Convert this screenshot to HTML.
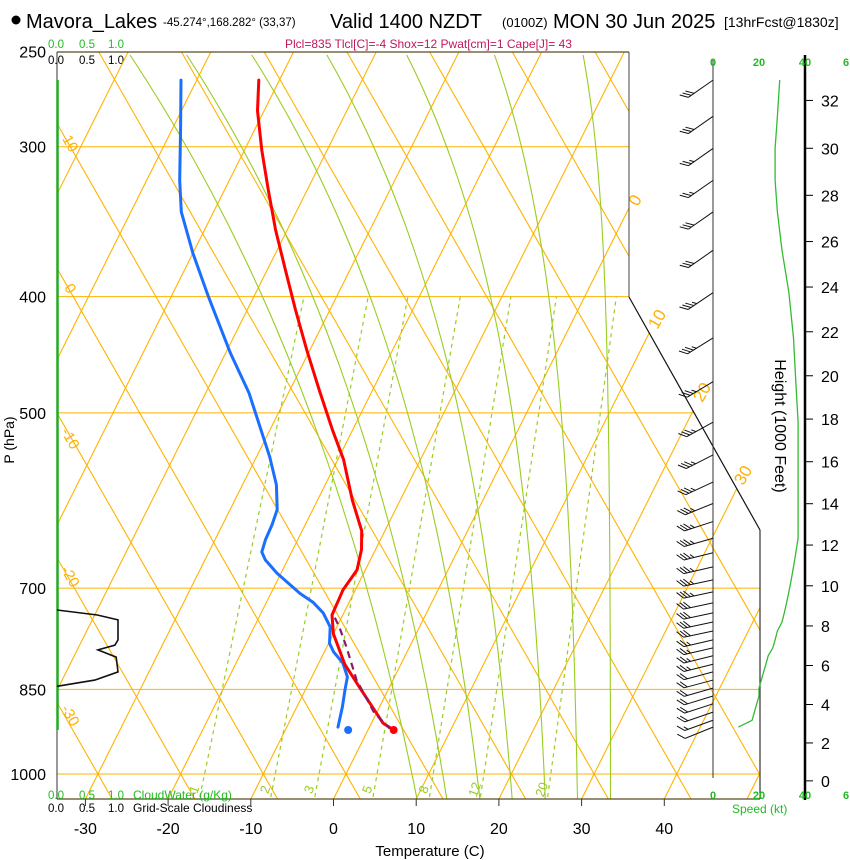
<!DOCTYPE html>
<html>
<head>
<meta charset="utf-8">
<style>
  html,body{margin:0;padding:0;background:#fff;}
  svg{display:block;font-family:"Liberation Sans",Arial,sans-serif;}
</style>
</head>
<body>
<svg id="chart" width="850" height="860" viewBox="0 0 850 860" xmlns="http://www.w3.org/2000/svg">
  <defs>
    <clipPath id="plotclip">
      <polygon points="57,52 629,52 629,297 760,530 760,799 57,799"/>
    </clipPath>
  </defs>
  <rect x="0" y="0" width="850" height="860" fill="#fff"/>

  <g>
    <circle cx="16" cy="20" r="4.5" fill="#000"/>
    <text x="26" y="28" font-size="20">Mavora_Lakes</text>
    <text x="163" y="26" font-size="11.5">-45.274°,168.282° (33,37)</text>
    <text x="330" y="28" font-size="20">Valid 1400 NZDT</text>
    <text x="502" y="27" font-size="13">(0100Z)</text>
    <text x="553" y="28" font-size="20">MON 30 Jun 2025</text>
    <text x="724" y="27" font-size="14">[13hrFcst@1830z]</text>
    <text x="285" y="48" font-size="12" fill="#c0185a">Plcl=835 Tlcl[C]=-4 Shox=12 Pwat[cm]=1 Cape[J]= 43</text>
    <text x="48" y="48" font-size="11.5" fill="#22bb22">0.0</text>
    <text x="79" y="48" font-size="11.5" fill="#22bb22">0.5</text>
    <text x="108" y="48" font-size="11.5" fill="#22bb22">1.0</text>
    <text x="48" y="64" font-size="11.5" fill="#000">0.0</text>
    <text x="79" y="64" font-size="11.5" fill="#000">0.5</text>
    <text x="108" y="64" font-size="11.5" fill="#000">1.0</text>
  </g>

  <g id="grid" clip-path="url(#plotclip)"></g>
  <g id="gridlabels">
    <text transform="translate(640,203) rotate(-60)" font-size="17" fill="#ffb000" text-anchor="middle">0</text>
    <text transform="translate(662,322) rotate(-60)" font-size="17" fill="#ffb000" text-anchor="middle">10</text>
    <text transform="translate(707,395) rotate(-60)" font-size="17" fill="#ffb000" text-anchor="middle">20</text>
    <text transform="translate(748,478) rotate(-60)" font-size="17" fill="#ffb000" text-anchor="middle">30</text>
    <text transform="translate(66,146) rotate(60)" font-size="15" fill="#ffb000" text-anchor="middle">10</text>
    <text transform="translate(66,291) rotate(60)" font-size="15" fill="#ffb000" text-anchor="middle">0</text>
    <text transform="translate(66,441) rotate(60)" font-size="15" fill="#ffb000" text-anchor="middle">-10</text>
    <text transform="translate(66,579) rotate(60)" font-size="15" fill="#ffb000" text-anchor="middle">-20</text>
    <text transform="translate(66,718) rotate(60)" font-size="15" fill="#ffb000" text-anchor="middle">-30</text>
  </g>

  <g>
    <line x1="57" y1="52" x2="629" y2="52" stroke="#5a4a20" stroke-width="1.2"/>
    <line x1="629" y1="52" x2="629" y2="297" stroke="#444" stroke-width="1"/>
    <line x1="629" y1="297" x2="760" y2="530" stroke="#111" stroke-width="1.2"/>
    <line x1="760" y1="530" x2="760" y2="799" stroke="#333" stroke-width="1.2"/>
    <line x1="57" y1="52" x2="57" y2="799" stroke="#333" stroke-width="1"/>
    <line x1="57" y1="799" x2="760" y2="799" stroke="#5a4a20" stroke-width="1.3"/>
    <line x1="57.5" y1="80" x2="57.5" y2="730" stroke="#22aa22" stroke-width="2.5"/>
    <line x1="713" y1="60" x2="713" y2="778" stroke="#333" stroke-width="1"/>
    <line x1="805" y1="55" x2="805" y2="800" stroke="#000" stroke-width="2.5"/>
  </g>

  <g id="axes"></g>

  <text transform="translate(14,440) rotate(-90)" font-size="14" text-anchor="middle">P (hPa)</text>
  <text x="430" y="856" font-size="15" text-anchor="middle">Temperature (C)</text>
  <text transform="translate(775,426) rotate(90)" font-size="16" text-anchor="middle">Height (1000 Feet)</text>
  <text x="732" y="813" font-size="12" fill="#22bb22">Speed (kt)</text>

  <g>
    <text x="48" y="799" font-size="11.5" fill="#22bb22">0.0</text>
    <text x="79" y="799" font-size="11.5" fill="#22bb22">0.5</text>
    <text x="108" y="799" font-size="11.5" fill="#22bb22">1.0</text>
    <text x="133" y="799" font-size="12" fill="#22bb22">CloudWater (g/Kg)</text>
    <text x="48" y="812" font-size="11.5" fill="#000">0.0</text>
    <text x="79" y="812" font-size="11.5" fill="#000">0.5</text>
    <text x="108" y="812" font-size="11.5" fill="#000">1.0</text>
    <text x="133" y="812" font-size="12" fill="#000">Grid-Scale Cloudiness</text>
  </g>

  <g id="series"></g>
  <g id="winds"></g>
</svg>

<script>
// ---- data ----
const pressureTicks = [250, 300, 400, 500, 700, 850, 1000];
const gridPressures = [300, 400, 500, 700, 850, 1000];
const tempTicks = [-30, -20, -10, 0, 10, 20, 30, 40];
const heightTicks = [0, 2, 4, 6, 8, 10, 12, 14, 16, 18, 20, 22, 24, 26, 28, 30, 32];
const speedTicks = [0, 20, 40, 60];
const speedTickLabels = ["0", "20", "40", "6"];
const mixRatios = [1, 2, 3, 5, 8, 12, 20];
const moistT = [10.1, 13.7, 17.7, 21.6, 25.6, 29.5, 33.5];

const tempP = [264,280,302,326,352,380,410,443,479,517,547,591,627,650,676,702,737,764,810,848,907,919];
const tempT = [-52.5,-50.8,-47.9,-44.7,-41.4,-37.8,-34.2,-30.4,-26.4,-22.4,-19.3,-15.8,-12.8,-11.7,-11.0,-11.5,-11.3,-10.0,-6.8,-3.5,1.4,3.1];

const dewP = [264,289,320,340,368,400,446,481,544,574,602,620,638,653,663,680,707,719,734,754,778,791,808,830,851,879,914];
const dewT = [-61.9,-59.1,-56.0,-53.9,-50.0,-45.5,-39.4,-34.8,-28.4,-25.9,-24.3,-24.0,-23.9,-23.6,-22.7,-20.5,-16.5,-14.4,-12.5,-10.8,-9.9,-8.9,-7.1,-5.7,-5.2,-4.5,-3.8];

const parcelP = [741,754,784,835,889,916];
const parcelT = [-10.8,-9.7,-7.6,-4.4,-0.3,2.5];

const surfaceP = [919];
const surfaceT = [3.1];
const surfaceTd = [-2.4];

const cloudP = [730,737,744,773,781,788,799,822,835,845];
const cloudFrac = [0,0.66,1.0,1.0,0.95,0.67,0.97,1.0,0.62,0];

const windP = [264,283,301,320,340,366,397,433,471,509,542,571,595,616,636,654,672,689,705,720,734,747,760,773,785,797,810,822,835,848,861,874,888,902,914];
const windDir = [235,235,235,235,235,235,236,238,239,241,243,245,248,252,254,256,257,258,258,258,258,258,258,257,257,256,256,255,255,254,253,252,251,250,248];
const windSpd = [29,28,27,27,28,30,33,35,36,37,37,37,37,37,37,36,35,34,33,32,31,30,28,27,26,24,23,22,21,20,20,19,18,17,11];

// ---- axis functions ----
const Y0 = 774, PXLN = 521, X0 = 346, PXC = 8.27, SKEW = 2.0, ADIA = 1.75, MIXSKEW = 2.57;
function yOf(p){ return Y0 - PXLN*Math.log(1000/p); }
function xOf(T,p){ return X0 + PXC*T + (Y0 - yOf(p))/SKEW; }
function xSpd(s){ return 713 + s*2.3; }
function xCloud(f){ return 57 + f*61; }
function pOfHeightKft(h){ const z=h*304.8; return 1013.25*Math.pow(1-6.5e-3*z/288.15,5.2559); }

const NS = "http://www.w3.org/2000/svg";
function mk(tag, attrs, parent){
  const el = document.createElementNS(NS, tag);
  for (const k in attrs) el.setAttribute(k, attrs[k]);
  parent.appendChild(el);
  return el;
}
const grid = document.getElementById('grid');
const axes = document.getElementById('axes');
const series = document.getElementById('series');
const winds = document.getElementById('winds');
const ORANGE = "#ffb300", GREEN = "#99cc22";

gridPressures.forEach(p=>{
  const y=yOf(p);
  const l = mk('line',{x1:57,y1:y,x2:760,y2:y,stroke:ORANGE,'stroke-width':1},grid);
  
  
});
for (let T=-100; T<=60; T+=10){
  const x0=X0+PXC*T;
  const l = mk('line',{x1:x0-25/SKEW,y1:799,x2:x0+722/SKEW,y2:52,stroke:ORANGE,'stroke-width':1.1},grid);
  
  
}
for (let T=-40; T<=140; T+=10){
  const x0=X0+PXC*T;
  const l = mk('line',{x1:x0+25/ADIA,y1:799,x2:x0-722/ADIA,y2:52,stroke:ORANGE,'stroke-width':1.1},grid);
  
  
}
const moistD = [289,262,230,187,140,84,28];
const moistB = [1.2,1.4,1.7,2.0,2.5,3.0,5.0];
moistT.forEach((T,i)=>{
  const xb = X0 + PXC*T - 12.5;
  let d='';
  for (let y=799; y>=52; y-=6){
    const u=(799-y)/747;
    const x = xb - moistD[i]*(Math.exp(moistB[i]*u)-1)/(Math.exp(moistB[i])-1);
    d += (d?'L':'M') + x.toFixed(1)+','+y.toFixed(1);
  }
  const pth = mk('path',{d:d,fill:'none',stroke:GREEN,'stroke-width':1.1},grid);
  
  
});
function tdFromW(w,p){ const e=w*p/(622+w); const L=Math.log(e/6.112); return 243.5*L/(17.67-L); }
function xMix(w,p){ return X0 + PXC*tdFromW(w,p) + (Y0-yOf(p))/MIXSKEW; }
mixRatios.forEach(w=>{
  const pb=1045, pt=400;
  const l = mk('line',{x1:xMix(w,pb),y1:yOf(pb),x2:xMix(w,pt),y2:yOf(pt),stroke:GREEN,'stroke-width':1.2,'stroke-dasharray':'4,4'},grid);
  
  
  const t = mk('text',{transform:'translate('+(xMix(w,1040)-2).toFixed(1)+',791) rotate(-70)','font-size':13,fill:GREEN,'text-anchor':'middle'},document.getElementById('gridlabels'));
  t.textContent = String(w);
  
  
});

pressureTicks.forEach(p=>{
  const t = mk('text',{x:46,y:(yOf(p)+6).toFixed(1),'font-size':16,'text-anchor':'end'},axes);
  t.textContent = String(p);
  
  
});
tempTicks.forEach(T=>{
  const x = X0 + PXC*T - 25/SKEW;
  const tk = mk('line',{x1:x,y1:799,x2:x,y2:806,stroke:'#333','stroke-width':1},axes);
  
  
  const t = mk('text',{x:x.toFixed(1),y:834,'font-size':16,'text-anchor':'middle'},axes);
  t.textContent = String(T);
  
  
});
heightTicks.forEach(h=>{
  const y = yOf(pOfHeightKft(h));
  const tk = mk('line',{x1:805,y1:y,x2:813,y2:y,stroke:'#000','stroke-width':1},axes);
  
  
  const t = mk('text',{x:821,y:(y+6).toFixed(1),'font-size':16},axes);
  t.textContent = String(h);
  
  
});
speedTicks.forEach((s,i)=>{
  const x = Math.min(xSpd(s), 846);
  const t1 = mk('text',{x:x.toFixed(1),y:66,'font-size':11,'font-weight':'bold',fill:'#22bb22','text-anchor':'middle'},axes);
  t1.textContent = speedTickLabels[i];
  
  
  const t2 = mk('text',{x:x.toFixed(1),y:799,'font-size':11,'font-weight':'bold',fill:'#22bb22','text-anchor':'middle'},axes);
  t2.textContent = speedTickLabels[i];
  
  
});

const cloudPts = cloudP.map((p,i)=>xCloud(cloudFrac[i]).toFixed(1)+','+yOf(p).toFixed(1)).join(' ');
const cl = mk('polyline',{points:cloudPts,fill:'none',stroke:'#111','stroke-width':1.6},series);



function profile(P,T){ return P.map((p,i)=>xOf(T[i],p).toFixed(1)+','+yOf(p).toFixed(1)).join(' '); }
const dl = mk('polyline',{points:profile(dewP,dewT),fill:'none',stroke:'#1a6fff','stroke-width':3,'stroke-linejoin':'round','stroke-linecap':'round'},series);


const tl = mk('polyline',{points:profile(tempP,tempT),fill:'none',stroke:'#ff0000','stroke-width':3,'stroke-linejoin':'round','stroke-linecap':'round'},series);


const pl = mk('polyline',{points:profile(parcelP,parcelT),fill:'none',stroke:'#8a1a6a','stroke-width':2.2,'stroke-dasharray':'7,5'},series);


const sd = mk('circle',{cx:xOf(surfaceTd[0],surfaceP[0]),cy:yOf(surfaceP[0]),r:4,fill:'#1a6fff'},series);


const st = mk('circle',{cx:xOf(surfaceT[0],surfaceP[0]),cy:yOf(surfaceP[0]),r:4,fill:'#ff0000'},series);



const spdPts = windP.map((p,i)=>xSpd(windSpd[i]).toFixed(1)+','+yOf(p).toFixed(1)).join(' ');
const sc = mk('polyline',{points:spdPts,fill:'none',stroke:'#33bb33','stroke-width':1.3},series);



windP.forEach((p,i)=>{
  const y=yOf(p), a=windDir[i]*Math.PI/180;
  const dx=Math.sin(a), dy=-Math.cos(a);
  const L=30, tx=713+dx*L, ty=y+dy*L;
  const g = mk('g',{},winds);
  
  
  const s = mk('line',{x1:713,y1:y,x2:tx,y2:ty,stroke:'#111','stroke-width':1},g);
  
  
  const n=Math.round(windSpd[i]/5), full=Math.floor(n/2), half=n%2;
  const phi=50*Math.PI/180;
  const fx=dx*Math.cos(phi)-dy*Math.sin(phi), fy=dx*Math.sin(phi)+dy*Math.cos(phi);
  for (let k=0;k<full+half;k++){
    const len=(k<full)?9:5;
    const bx=tx-dx*3.5*k, by=ty-dy*3.5*k;
    const f = mk('line',{x1:bx,y1:by,x2:bx+fx*len,y2:by+fy*len,stroke:'#111','stroke-width':1},g);
    
    
  }
});
</script>
</body>
</html>
